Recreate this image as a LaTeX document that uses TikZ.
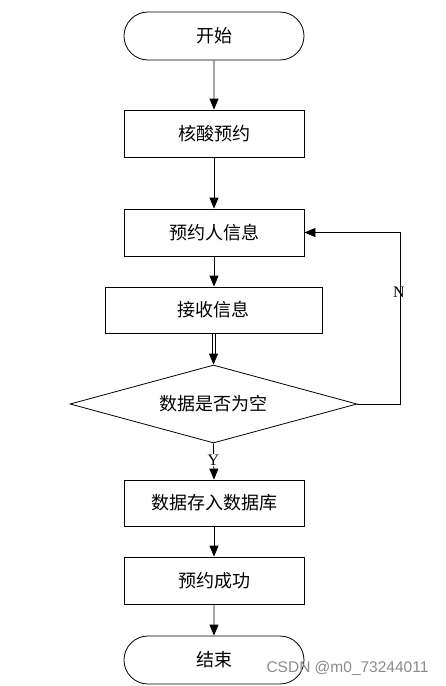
\documentclass[tikz,border=0pt]{standalone}
\usepackage{fontspec}
\setmainfont{Liberation Serif}
\newfontfamily\cjk{Noto Sans CJK SC}
\usetikzlibrary{arrows.meta,shapes.geometric,shapes.misc}
\begin{document}
\begin{tikzpicture}[x=1pt,y=-1pt,
  every node/.style={font=\cjk\fontsize{18}{21}\selectfont},
  box/.style={draw=black,line width=0.8pt,minimum width=180pt,minimum height=47pt,inner sep=0pt},
  term/.style={draw=black,line width=0.8pt,rounded rectangle,minimum width=180pt,minimum height=48pt,inner sep=0pt},
  dia/.style={draw=black,line width=0.8pt,diamond,minimum width=287pt,minimum height=78pt,inner sep=0pt,aspect=3.7},
  arr/.style={draw=black,line width=0.8pt,-{Triangle[length=11pt,width=9pt]}},
  lbl/.style={font=\fontsize{16}{18}\selectfont}]
\useasboundingbox (0,0) rectangle (445,686);
\fill[white] (0,0) rectangle (445,686);
\node[term] (start) at (214,36) {开始};
\node[box] (n1) at (214,133.5) {核酸预约};
\node[box] (n2) at (214,232.5) {预约人信息};
\node[box,minimum width=217pt,minimum height=46pt] (n3) at (213.5,310) {接收信息};
\node[dia] (d) at (213.5,404) {数据是否为空};
\node[box,minimum height=46pt] (n4) at (214,503) {数据存入数据库};
\node[box] (n5) at (214,580.5) {预约成功};
\node[term] (end) at (214,660) {结束};
\draw[arr] (start) -- (n1);
\draw[arr] (n1) -- (n2);
\draw[arr] (n2.south) -- (n2.south |- n3.north);
\coordinate (dm) at (213.5,354);
\draw[black,line width=0.8pt] ([xshift=-1.6pt]n3.south) -- ([xshift=-1.6pt]dm);
\draw[black,line width=0.8pt] ([xshift=1.6pt]n3.south) -- ([xshift=1.6pt]dm);
\draw[arr] (dm) -- (d.north);
\draw[arr] (d.south) -- (n4.north);
\draw[arr] (n4) -- (n5);
\draw[arr] (n5) -- (end);
\coordinate (r1) at (400,404);
\coordinate (r2) at (400,232.5);
\draw[arr] (d.east) -- (r1) -- (r2) -- (n2.east);
\node[lbl] (N) at (399,292) {N};
\node[lbl,fill=white,inner sep=0.5pt] (Y) at (213.5,460) {Y};
\node[font=\fontsize{15.5}{18}\selectfont\fontspec{Liberation Sans},text=black!45,anchor=east] (wm) at (432,668) {CSDN @m0\_73244011};
\end{tikzpicture}
\end{document}
